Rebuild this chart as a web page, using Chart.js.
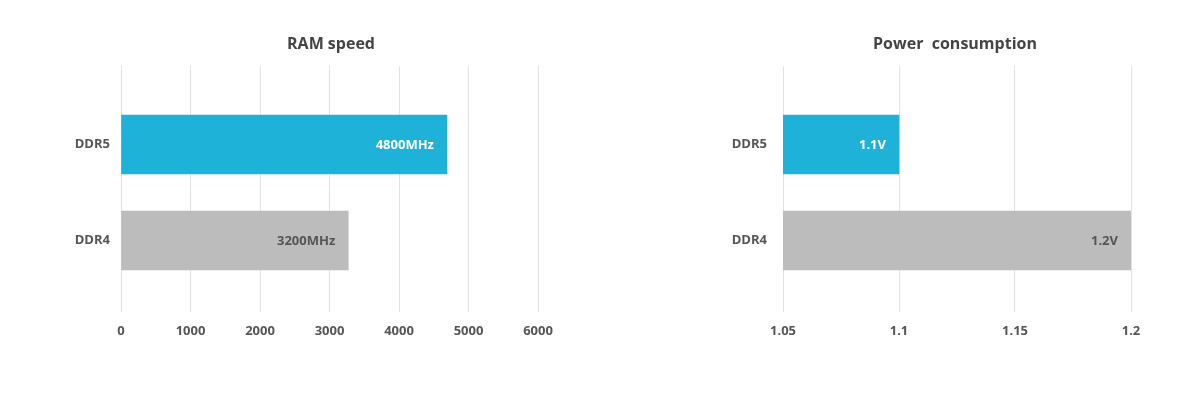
<!DOCTYPE html>
<html>
<head>
<meta charset="utf-8">
<script src="https://cdn.jsdelivr.net/npm/chart.js@4"></script>
<style>
  html, body { margin: 0; padding: 0; background: #fff; overflow: hidden; }
  #wrap { position: relative; width: 1200px; height: 396px; }
  .box { position: absolute; top: 0; height: 396px; }
</style>
</head>
<body>
<div id="wrap">
  <div class="box" style="left:0;width:662px"><canvas id="speedChart"></canvas></div>
  <div class="box" style="left:710px;width:490px"><canvas id="powerChart"></canvas></div>
</div>
<script>
// data
var categories = ['DDR5', 'DDR4'];
var speedValues = [4690, 3270];          // bar lengths as drawn
var speedLabels = ['4800MHz', '3200MHz']; // text printed on the bars
var speedTicks = [0, 1000, 2000, 3000, 4000, 5000, 6000];
var powerValues = [1.1, 1.2];
var powerLabels = ['1.1V', '1.2V'];
var powerTicks = [1.05, 1.1, 1.15, 1.2];

var barColors = ['#1eb2d9', '#bcbcbc'];
var labelColors = ['#ffffff', '#555555'];
var FONT = "'Open Sans', 'Noto Sans', sans-serif";

// labels inside the bar end + title centred over the plot area
var decorations = {
    id: 'decorations',
    afterDatasetsDraw: function (chart, args, opts) {
        var ctx = chart.ctx;
        var meta = chart.getDatasetMeta(0);
        var area = chart.chartArea;
        ctx.save();
        ctx.font = 'bold 13px ' + FONT;
        ctx.textAlign = 'right';
        ctx.textBaseline = 'middle';
        meta.data.forEach(function (bar, i) {
            ctx.fillStyle = labelColors[i];
            ctx.fillText(opts.texts[i], bar.x - 13, bar.y + 1);
        });
        ctx.font = 'bold 16px ' + FONT;
        ctx.textAlign = 'center';
        ctx.fillStyle = '#444444';
        ctx.fillText(opts.title, (area.left + area.right) / 2 + opts.titleShift, 44);
        ctx.restore();
    }
};

function makeChart(id, title, titleShift, values, texts, ticks, yWidth, yPad, padRight) {
    var points = values.map(function (v, i) { return { x: v, y: i + 1 }; });
    return new Chart(document.getElementById(id).getContext('2d'), {
        type: 'bar',
        data: {
            datasets: [{
                data: points,
                backgroundColor: barColors,
                borderWidth: 0,
                barThickness: 59
            }]
        },
        options: {
            indexAxis: 'y',
            responsive: true,
            maintainAspectRatio: false,
            animation: false,
            layout: { padding: { left: 0, right: padRight, top: 66, bottom: 46.4 } },
            plugins: {
                legend: { display: false },
                tooltip: { enabled: false },
                title: { display: false },
                decorations: { texts: texts, title: title, titleShift: titleShift }
            },
            scales: {
                x: {
                    type: 'linear',
                    min: ticks[0],
                    max: ticks[ticks.length - 1],
                    afterBuildTicks: function (scale) {
                        scale.ticks = ticks.map(function (t) { return { value: t }; });
                    },
                    border: { display: false },
                    grid: { color: '#e3e3e3', lineWidth: 1, drawTicks: false },
                    ticks: {
                        padding: 11,
                        color: '#555555',
                        font: { family: FONT, size: 13, weight: 'bold' },
                        callback: function (v) { return String(Number(v.toFixed(2))); }
                    }
                },
                y: {
                    type: 'linear',
                    reverse: true,
                    offset: false,
                    bounds: 'data',
                    grace: 0,
                    min: 0.182,
                    max: 2.745,
                    afterBuildTicks: function (scale) {
                        scale.ticks = categories.map(function (c, i) { return { value: i + 1 }; });
                    },
                    afterFit: function (scale) { scale.width = yWidth; },
                    border: { display: false },
                    grid: { display: false, drawTicks: false },
                    ticks: {
                        padding: yPad,
                        color: '#555555',
                        font: { family: FONT, size: 13, weight: 'bold' },
                        callback: function (v) { return categories[v - 1]; }
                    }
                }
            }
        },
        plugins: [decorations]
    });
}

makeChart('speedChart', 'RAM speed', 1.5, speedValues, speedLabels, speedTicks, 121, 11, 124);
makeChart('powerChart', 'Power  consumption', -2, powerValues, powerLabels, powerTicks, 73, 16, 69);
</script>
</body>
</html>
